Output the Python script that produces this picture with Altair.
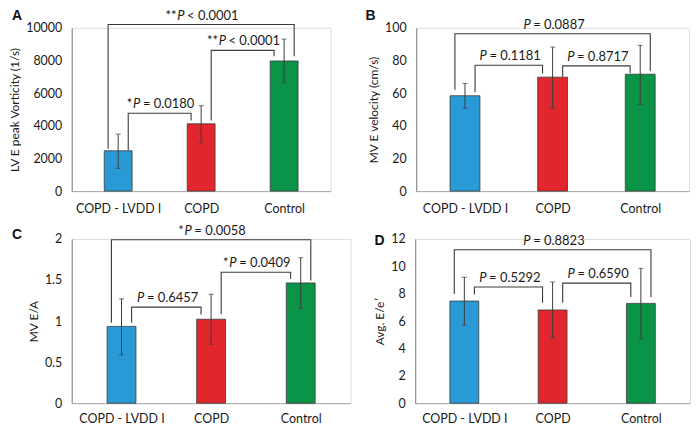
import json
import altair as alt
import pandas as pd

groups = ["COPD - LVDD I", "COPD", "Control"]
bar_colors = ["#2a9ad6", "#e2262d", "#0a9447"]
panel_letters = ["A", "B", "C", "D"]
y_titles = ["LV E peak Vorticity (1/s)", "MV E velocity (cm/s)", "MV E/A", "Avg. E/e\u2032"]

# Panel A
a_mean = [2470, 4120, 7970]
a_err_low = [1400, 2960, 6630]
a_err_high = [3490, 5230, 9310]
a_br_from = [0, 1, 0]
a_br_to = [1, 2, 2]
a_br_left = [2500, 4320, 2600]
a_br_top = [4770, 8620, 10200]
a_br_right = [4320, 8260, 8260]
a_br_stars = ["*", "**", "**"]
a_br_label = ["= 0.0180", "< 0.0001", "< 0.0001"]

# Panel B
b_mean = [58.4, 69.8, 71.6]
b_err_low = [50.7, 50.9, 53.1]
b_err_high = [65.9, 88.2, 89.3]
b_br_from = [0, 1, 0]
b_br_to = [1, 2, 2]
b_br_left = [60.6, 70.0, 62.1]
b_br_top = [77.1, 76.7, 96.4]
b_br_right = [72.0, 72.4, 73.4]
b_br_stars = ["", "", ""]
b_br_label = ["= 0.1181", "= 0.8717", "= 0.0887"]

# Panel C
c_mean = [0.935, 1.022, 1.464]
c_err_low = [0.588, 0.718, 1.156]
c_err_high = [1.27, 1.325, 1.771]
c_br_from = [0, 1, 0]
c_br_to = [1, 2, 2]
c_br_left = [0.98, 1.085, 0.98]
c_br_top = [1.17, 1.594, 1.99]
c_br_right = [1.08, 1.515, 1.495]
c_br_stars = ["", "*", "*"]
c_br_label = ["= 0.6457", "= 0.0409", "= 0.0058"]

# Panel D
d_mean = [7.46, 6.81, 7.29]
d_err_low = [5.71, 4.78, 4.71]
d_err_high = [9.20, 8.85, 9.85]
d_br_from = [0, 1, 0]
d_br_to = [1, 2, 2]
d_br_left = [7.94, 7.34, 7.98]
d_br_top = [8.49, 8.77, 11.21]
d_br_right = [7.34, 7.75, 7.75]
d_br_stars = ["", "", ""]
d_br_label = ["= 0.5292", "= 0.6590", "= 0.8823"]

FONT = "Lato"
TXT = "#1a1a1a"
FS = 13
CHW = {"*": 0.42, "P": 0.62, "=": 0.58, "<": 0.58, ".": 0.26, " ": 0.2}


def tw(s):
    return sum(CHW.get(ch, 0.58) for ch in s) * FS


def panel(mean, lo, hi, bfrom, bto, bleft, btop, bright, bstars, blabel,
          ymax, ystep, yfmt, ytitle, w, h, barw, letter, lx, ly, xpad):
    ppu = w / 3.0
    off = 10.5 / ppu
    xenc = lambda f: alt.X(
        f, type="quantitative",
        scale=alt.Scale(domain=[-0.5, 2.5], nice=False, zero=False),
        axis=alt.Axis(values=[0, 1, 2], labelExpr=json.dumps(groups) + "[datum.value]",
                      title=None, ticks=False, grid=False, domainColor="#a6a6a6",
                      domainWidth=1, labelPadding=xpad, labelFontSize=12.5, labelFont=FONT,
                      labelColor=TXT))
    n = int(round(ymax / ystep))
    yenc = lambda f: alt.Y(
        f, type="quantitative",
        scale=alt.Scale(domain=[0, ymax], nice=False),
        axis=alt.Axis(values=[k * ystep for k in range(n + 1)], format=yfmt,
                      title=ytitle, ticks=False, grid=False, domainColor="#808080",
                      domainWidth=1, labelPadding=10, labelFontSize=12.5, labelFont=FONT,
                      labelColor=TXT, titleFont=FONT, titleFontSize=12,
                      titleFontWeight="normal", titleColor=TXT, titlePadding=4))

    bars_df = pd.DataFrame({"x": [0, 1, 2], "g": groups, "m": mean, "lo": lo, "hi": hi})
    bars = alt.Chart(bars_df).mark_bar(size=barw, stroke="#3a3a3a", strokeWidth=0.8).encode(
        x=xenc("x"), y=yenc("m"),
        color=alt.Color("g:N", scale=alt.Scale(domain=groups, range=bar_colors), legend=None))
    err = alt.Chart(bars_df).mark_rule(color="#3c3c3c", strokeWidth=1).encode(
        x=xenc("x"), y=yenc("lo"), y2="hi")
    caps_df = pd.DataFrame({"x": [0, 1, 2, 0, 1, 2], "v": list(lo) + list(hi)})
    caps = alt.Chart(caps_df).mark_tick(orient="horizontal", size=5, thickness=1,
                                        color="#3c3c3c").encode(x=xenc("x"), y=yenc("v"))

    rows, trows = [], []
    for k in range(len(bfrom)):
        i, j = bfrom[k], bto[k]
        if j - i >= 2:
            xl, xr = i - off, j + off
        else:
            xl, xr = i + off, j - off
        for o, (xx, yy) in enumerate([(xl, bleft[k]), (xl, btop[k]), (xr, btop[k]), (xr, bright[k])]):
            rows.append({"k": k, "o": o, "x": xx, "y": yy})
        mid = (xl + xr) / 2.0
        sw, pw, rw = tw(bstars[k]), tw("P"), tw(" " + blabel[k])
        total = sw + pw + rw
        anchor = mid + (-total / 2.0 + sw + pw) / ppu
        trows.append({"x": anchor, "y": btop[k], "s": bstars[k], "p": "P", "r": blabel[k]})
    br_df = pd.DataFrame(rows)
    t_df = pd.DataFrame(trows)
    brackets = alt.Chart(br_df).mark_line(color="#3a3a3a", strokeWidth=1.1, interpolate="linear").encode(
        x=xenc("x"), y=yenc("y"), detail="k:N", order="o:Q")
    tbase = dict(font=FONT, fontSize=FS, color=TXT, baseline="alphabetic", dy=-5)
    t_s = alt.Chart(t_df).mark_text(align="right", dx=-tw("P"), **tbase).encode(
        x=xenc("x"), y=yenc("y"), text="s:N")
    t_p = alt.Chart(t_df).mark_text(align="right", fontStyle="italic", **tbase).encode(
        x=xenc("x"), y=yenc("y"), text="p:N")
    t_r = alt.Chart(t_df).mark_text(align="left", dx=tw(" "), **tbase).encode(
        x=xenc("x"), y=yenc("y"), text="r:N")
    let = alt.Chart(pd.DataFrame({"t": [letter]})).mark_text(
        align="left", baseline="alphabetic", font="Liberation Sans", fontWeight="bold",
        fontSize=14, color="#111111").encode(x=alt.value(lx), y=alt.value(ly), text="t:N")
    return alt.layer(bars, err, caps, brackets, t_s, t_p, t_r, let).properties(width=w, height=h)


pa = panel(a_mean, a_err_low, a_err_high, a_br_from, a_br_to, a_br_left, a_br_top, a_br_right,
           a_br_stars, a_br_label, 10000, 2000, "d", y_titles[0], 260, 164, 28, panel_letters[0], -60, -7.5, 11)
pb = panel(b_mean, b_err_low, b_err_high, b_br_from, b_br_to, b_br_left, b_br_top, b_br_right,
           b_br_stars, b_br_label, 100, 20, "d", y_titles[1], 274, 164, 30, panel_letters[1], -51, -7.5, 11)
pc = panel(c_mean, c_err_low, c_err_high, c_br_from, c_br_to, c_br_left, c_br_top, c_br_right,
           c_br_stars, c_br_label, 2, 0.5, ".1~f", y_titles[2], 280, 165, 29, panel_letters[2], -60, 0, 9)
pd_ = panel(d_mean, d_err_low, d_err_high, d_br_from, d_br_to, d_br_left, d_br_top, d_br_right,
            d_br_stars, d_br_label, 12, 2, "d", y_titles[3], 276, 165, 29, panel_letters[3], -41, 6, 9)

row1 = alt.hconcat(pa, pb, spacing=86, bounds="flush")
row2 = alt.hconcat(pc, pd_, spacing=65, bounds="flush")
chart = alt.vconcat(row1, row2, spacing=9).properties(
    padding={"left": 0, "top": 0, "right": 0, "bottom": 0}
).configure_view(stroke=None).configure(background="white")

chart.save("out.html", embed_options={"renderer": "svg", "actions": False})
